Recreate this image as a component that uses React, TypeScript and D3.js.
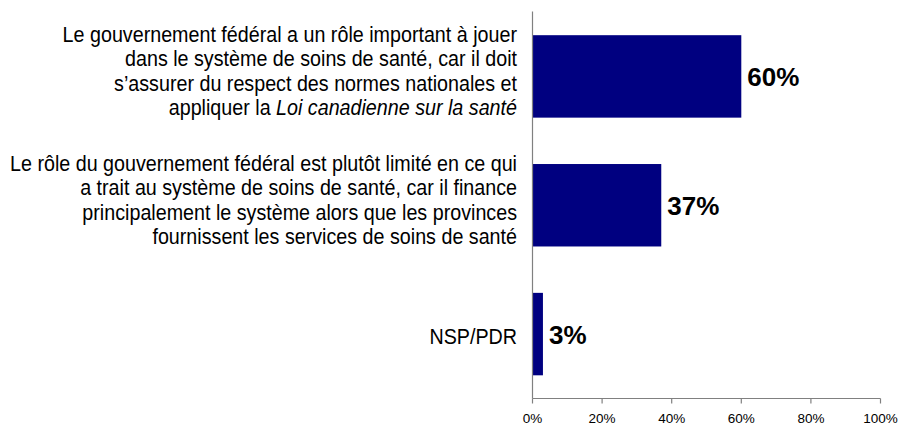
import React from "react";
import * as d3 from "d3";

// Category labels: each an array of lines; each line is an array of [text, italic]
const categories: [string, boolean][][][] = [
  [
    [["Le gouvernement fédéral a un rôle important à jouer", false]],
    [["dans le système de soins de santé, car il doit", false]],
    [["s’assurer du respect des normes nationales et", false]],
    [["appliquer la ", false], ["Loi canadienne sur la santé", true]],
  ],
  [
    [["Le rôle du gouvernement fédéral est plutôt limité en ce qui", false]],
    [["a trait au système de soins de santé, car il finance", false]],
    [["principalement le système alors que les provinces", false]],
    [["fournissent les services de soins de santé", false]],
  ],
  [[["NSP/PDR", false]]],
];
const values = [60, 37, 3];
const xTicks = [0, 20, 40, 60, 80, 100];

const W = 901;
const H = 428;
const left = 532.5;
const right = 880.5;
const top = 12;
const bottom = 398.5;
const FONT = "'Liberation Sans', Arial, sans-serif";

export default function App() {
  const x = d3.scaleLinear().domain([0, 100]).range([left, right]);
  const y = d3
    .scaleBand<number>()
    .domain(values.map((_, i) => i))
    .range([top, bottom])
    .paddingInner(0.36)
    .paddingOuter(0.18);
  const lineH = 24.5;

  return (
    <svg
      width={W}
      height={H}
      style={{ position: "absolute", left: 0, top: 0, background: "#fff" }}
      fontFamily={FONT}
    >
      <rect x={0} y={0} width={W} height={H} fill="#fff" />
      {values.map((v, i) => {
        const y0 = y(i)!;
        const cy = y0 + y.bandwidth() / 2;
        return (
          <g key={i}>
            <rect
              x={x(0)}
              y={y0}
              width={x(v) - x(0)}
              height={y.bandwidth()}
              fill="#000080"
            />
            <text
              x={x(v) + 6}
              y={cy + 9.5}
              fontSize={26}
              fontWeight="bold"
              fill="#000"
            >
              {v}%
            </text>
          </g>
        );
      })}
      {categories.map((lines, i) => {
        const cy = y(i)! + y.bandwidth() / 2;
        const n = lines.length;
        return lines.map((segs, j) => {
          const by = cy + (j - (n - 1) / 2) * lineH + (n > 1 ? 2 : 10);
          return (
            <text
              key={`${i}-${j}`}
              transform={`translate(517,${by}) scale(1,1.08)`}
              textAnchor="end"
              fontSize={19.7}
              fill="#000"
            >
              {segs.map(([t, it], k) => (
                <tspan key={k} fontStyle={it ? "italic" : "normal"}>
                  {t}
                </tspan>
              ))}
            </text>
          );
        });
      })}
      {/* axes */}
      <line x1={left} x2={left} y1={top - 0.5} y2={bottom} stroke="#808080" strokeWidth={1.2} />
      <line x1={left} x2={right} y1={bottom} y2={bottom} stroke="#808080" strokeWidth={1.2} />
      {xTicks.map((t) => (
        <g key={t}>
          <line x1={x(t)} x2={x(t)} y1={bottom} y2={bottom + 5} stroke="#808080" strokeWidth={1.2} />
          <text x={x(t)} y={422.5} textAnchor="middle" fontSize={13.5} fill="#000">
            {t}%
          </text>
        </g>
      ))}
    </svg>
  );
}
